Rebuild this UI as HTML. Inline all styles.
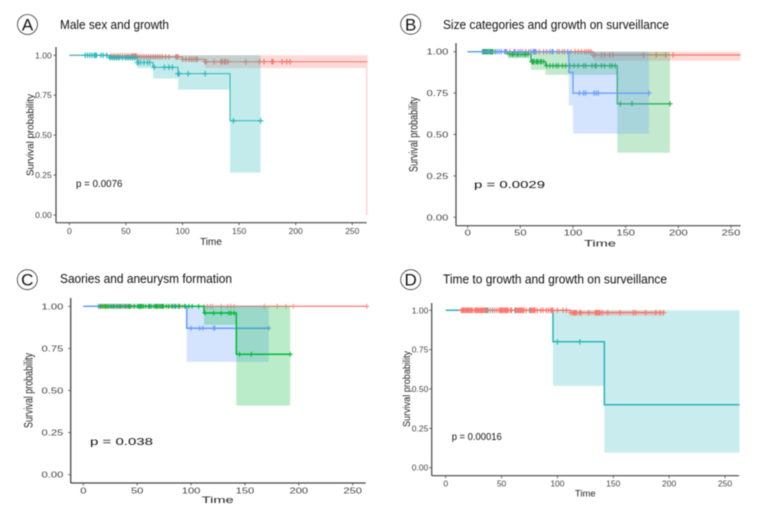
<!DOCTYPE html>
<html lang="en">
<head>
<meta charset="utf-8">
<title>Survival curves</title>
<style>
html,body{margin:0;padding:0;background:#fff;width:759px;height:516px;overflow:hidden}
#chart{display:block;filter:blur(0.5px);font-family:"Liberation Sans",sans-serif}
.title{font-size:12.5px;fill:#111}
.letter{font-size:17px;fill:#111;text-anchor:middle}
.badge{fill:#fff;stroke:#333;stroke-width:.8}
.pval{font-size:10.5px;fill:#111}
.ylab,.xlab{fill:#222}
</style>
</head>
<body>
<svg id="chart" width="759" height="516" viewBox="0 0 759 516" xmlns="http://www.w3.org/2000/svg">
  <rect width="759" height="516" fill="#fff"/>

  <g>
    <circle class="badge" cx="27.5" cy="24.5" r="10"/>
    <text class="letter" x="27.5" y="30.5">A</text>
    <text class="title" x="60" y="29" textLength="109" lengthAdjust="spacingAndGlyphs">Male sex and growth</text>
  </g>
  <g>
    <circle class="badge" cx="410.7" cy="24.3" r="10"/>
    <text class="letter" x="410.7" y="30.3">B</text>
    <text class="title" x="443" y="29" textLength="226" lengthAdjust="spacingAndGlyphs">Size categories and growth on surveillance</text>
  </g>
  <g>
    <circle class="badge" cx="27.3" cy="279.7" r="10"/>
    <text class="letter" x="27.3" y="285.7">C</text>
    <text class="title" x="60" y="283" textLength="172" lengthAdjust="spacingAndGlyphs">Saories and aneurysm formation</text>
  </g>
  <g>
    <circle class="badge" cx="410.7" cy="279.7" r="10"/>
    <text class="letter" x="410.7" y="285.7">D</text>
    <text class="title" x="443" y="283.5" textLength="224" lengthAdjust="spacingAndGlyphs">Time to growth and growth on surveillance</text>
  </g>

  <g id="plots"></g>

  <text class="ylab" font-size="10.5" text-anchor="middle" transform="translate(33.5,135) rotate(-90)" textLength="82" lengthAdjust="spacingAndGlyphs">Survival probability</text>
  <text class="xlab" font-size="10" text-anchor="middle" x="211" y="245">Time</text>
  <text class="pval" x="76" y="187" textLength="46.5" lengthAdjust="spacingAndGlyphs">p = 0.0076</text>

  <text class="ylab" font-size="11.5" text-anchor="middle" transform="translate(417.5,134.5) rotate(-90)" textLength="75" lengthAdjust="spacingAndGlyphs">Survival probability</text>
  <text class="xlab" font-size="9.5" text-anchor="middle" x="600" y="246.5" textLength="32" lengthAdjust="spacingAndGlyphs">Time</text>
  <text class="pval" x="474" y="188" textLength="71" lengthAdjust="spacingAndGlyphs">p = 0.0029</text>

  <text class="ylab" font-size="11.5" text-anchor="middle" transform="translate(32.5,390.5) rotate(-90)" textLength="75" lengthAdjust="spacingAndGlyphs">Survival probability</text>
  <text class="xlab" font-size="9.5" text-anchor="middle" x="217.7" y="503" textLength="32" lengthAdjust="spacingAndGlyphs">Time</text>
  <text class="pval" x="90" y="445" textLength="63" lengthAdjust="spacingAndGlyphs">p = 0.038</text>

  <text class="ylab" font-size="10.5" text-anchor="middle" transform="translate(410,389) rotate(-90)" textLength="76" lengthAdjust="spacingAndGlyphs">Survival probability</text>
  <text class="xlab" font-size="9.5" text-anchor="middle" x="585.3" y="496.5">Time</text>
  <text class="pval" x="451.7" y="440" textLength="50" lengthAdjust="spacingAndGlyphs">p = 0.00016</text>
</svg>

<script>
const xTickValues = [0, 50, 100, 150, 200, 250];
const xTickLabels = ['0', '50', '100', '150', '200', '250'];
const yTickValues = [0, 0.25, 0.5, 0.75, 1];
const yTickLabels = ['0.00', '0.25', '0.50', '0.75', '1.00'];

/* Panel A */
const aRedTimes = [0, 37, 60, 100, 120, 262];
const aRedSurv = [1, 0.995, 0.99, 0.975, 0.96, 0.96];
const aRedUpper = [1, 1, 1, 1, 1, 1];
const aRedLower = [1, 0.99, 0.98, 0.96, 0.92, 0];
const aRedEnd = 263.5;
const aRedCensor = [37,39,41,43,45,47,49,51,53,55,56,57,58,59,60,62,64,66,68,70,72,74,76,78,80,82,85,88,94,95,96,100,103,106,108,110,112,113,120,121,128,134,135,137,138,140,156,168,172,179,180,188,192,195];
const aTealTimes = [0, 35, 60, 74, 96, 142];
const aTealSurv = [1, 0.985, 0.955, 0.925, 0.885, 0.59];
const aTealUpper = [1, 1, 1, 1, 1, 1];
const aTealLower = [1, 0.97, 0.92, 0.855, 0.785, 0.265];
const aTealEnd = 169;
const aTealCensor = [14,16,18,20,22,23,24,28,30,33,36,38,40,42,44,47,50,52,54,56,58,60,61,63,66,69,71,75,84,88,91,96,97,105,120,145,169];

/* Panel B */
const bRedTimes = [0, 119];
const bRedSurv = [1, 0.98];
const bRedUpper = [1, 1];
const bRedLower = [1, 0.945];
const bRedEnd = 259;
const bRedCensor = [22,26,36,40,44,48,52,55,58,62,65,68,72,75,78,85,87,90,92,95,98,102,105,108,111,113,115,117,119,121,127,130,135,138,167,179,188,195];
const bBlueTimes = [0, 96, 100];
const bBlueSurv = [1, 0.875, 0.75];
const bBlueUpper = [1, 1, 1];
const bBlueLower = [1, 0.675, 0.505];
const bBlueEnd = 172;
const bBlueCensor = [14,20,28,30,32,35,37,45,50,60,63,64,80,81,95,106,110,112,120,122,124,172];
const bGreenTimes = [0, 38, 60, 74, 142];
const bGreenSurv = [1, 0.985, 0.94, 0.915, 0.685];
const bGreenUpper = [1, 1, 1, 1, 1];
const bGreenLower = [1, 0.96, 0.89, 0.86, 0.39];
const bGreenEnd = 192;
const bGreenCensor = [14,15,16,17,18,19,20,21,22,23,24,26,40,42,43,45,47,48,50,52,54,55,57,61,62,63,65,66,67,69,70,72,75,78,81,84,86,90,93,97,101,105,110,112,118,121,122,127,130,135,137,140,145,156,192];

/* Panel C */
const cRedTimes = [0];
const cRedSurv = [1];
const cRedUpper = [1];
const cRedLower = [1];
const cRedEnd = 263;
const cRedCensor = [15,17,19,22,24,27,30,33,36,38,41,45,48,55,60,66,70,75,80,84,90,92,112,115,118,120,128,134,137,140,168,180,188,195,263];
const cBlueTimes = [0, 96];
const cBlueSurv = [1, 0.87];
const cBlueUpper = [1, 1];
const cBlueLower = [1, 0.67];
const cBlueEnd = 172;
const cBlueCensor = [14,25,29,31,35,37,40,44,50,62,65,72,83,85,88,95,100,108,111,121,122,172];
const cGreenTimes = [14, 112, 142];
const cGreenSurv = [1, 0.96, 0.715];
const cGreenUpper = [1, 1, 1];
const cGreenLower = [1, 0.89, 0.41];
const cGreenEnd = 192;
const cGreenCensor = [16,18,20,21,23,26,28,32,34,39,42,43,47,51,52,53,54,56,58,61,63,67,68,69,71,73,74,77,79,82,86,89,94,98,101,107,113,121,128,135,137,140,145,156,192];

/* Panel D */
const dRedTimes = [14, 112];
const dRedSurv = [1, 0.985];
const dRedUpper = [1, 1];
const dRedLower = [1, 0.965];
const dRedEnd = 195;
const dRedCensor = [14,15,16,17,18,19,20,21,22,23,24,26,27,28,29,30,31,32,33,34,35,37,40,44,46,48,49,50,51,52,53,54,55,56,58,59,63,64,65,66,67,68,69,70,72,76,77,78,79,80,82,85,87,90,92,94,95,96,100,105,108,112,114,115,116,117,120,121,128,134,135,136,137,138,140,145,156,168,170,179,188,192,195];
const dTealTimes = [0, 96, 142];
const dTealSurv = [1, 0.8, 0.4];
const dTealUpper = [1, 1, 1];
const dTealLower = [1, 0.52, 0.095];
const dTealEnd = 263;
const dTealCensor = [36,38,42,62,75,100,120];

const RED = '#F8766D', TEAL = '#26B6BA', BLUE = '#619CFF', GREEN = '#22AE4A';
const SVG_NS = 'http://www.w3.org/2000/svg';
const plots = document.getElementById('plots');

function make(tag, attrs, parent) {
  const el = document.createElementNS(SVG_NS, tag);
  for (const k in attrs) el.setAttribute(k, attrs[k]);
  parent.appendChild(el);
  return el;
}

function stepPoints(times, values, end, xf, yf) {
  const pts = [];
  times.forEach(function (t, i) {
    if (i > 0) pts.push([xf(t), yf(values[i - 1])]);
    pts.push([xf(t), yf(values[i])]);
  });
  pts.push([xf(end), yf(values[values.length - 1])]);
  return pts;
}

function survivalAt(times, surv, t) {
  let v = surv[0];
  times.forEach(function (tt, i) { if (tt <= t) v = surv[i]; });
  return v;
}

function drawSeries(parent, p, s, xf, yf) {
  const g = make('g', {}, parent);
  
  

  const up = stepPoints(s.times, s.upper, s.end, xf, yf);
  const low = stepPoints(s.times, s.lower, s.end, xf, yf).reverse();
  const band = make('polygon', {
    points: up.concat(low).map(function (q) { return q[0].toFixed(2) + ',' + q[1].toFixed(2); }).join(' '),
    fill: s.color,
    'fill-opacity': p.bandOpacity
  }, g);
  
  

  const line = make('polyline', {
    points: stepPoints(s.times, s.surv, s.end, xf, yf).map(function (q) { return q[0].toFixed(2) + ',' + q[1].toFixed(2); }).join(' '),
    fill: 'none',
    stroke: s.color,
    'stroke-width': s.width || p.lineWidth
  }, g);
  
  

  s.censor.forEach(function (t) {
    const cx = xf(t), cy = yf(survivalAt(s.times, s.surv, t));
    const a = p.markSize;
    const mark = make('path', {
      d: 'M' + (cx - a).toFixed(2) + ' ' + cy.toFixed(2) + 'H' + (cx + a).toFixed(2) +
         'M' + cx.toFixed(2) + ' ' + (cy - a).toFixed(2) + 'V' + (cy + a).toFixed(2),
      stroke: s.color,
      'stroke-width': p.markWidth,
      fill: 'none'
    }, g);
    
    
  });
}

function drawPanel(p, seriesList) {
  const xScale = (p.x250 - p.x0) / 250;
  const xf = function (t) { return p.x0 + t * xScale; };
  const yf = function (v) { return p.y0 + (p.y1 - p.y0) * v; };

  const g = make('g', {}, plots);
  
  

  seriesList.forEach(function (s) { drawSeries(g, p, s, xf, yf); });

  const yAxis = make('line', { x1: p.left, x2: p.left, y1: p.top, y2: p.bottom, stroke: '#444', 'stroke-width': p.axisWidth }, g);
  
  
  const xAxis = make('line', { x1: p.left, x2: p.right, y1: p.bottom, y2: p.bottom, stroke: '#444', 'stroke-width': p.axisWidth }, g);
  
  

  xTickValues.forEach(function (v, i) {
    const tick = make('line', { x1: xf(v), x2: xf(v), y1: p.bottom, y2: p.bottom + 2.5, stroke: '#444', 'stroke-width': 0.8 }, g);
    
    
    const label = make('text', {
      transform: 'translate(' + xf(v) + ',' + p.xLabelY + ') scale(' + p.stretch + ',1)',
      'text-anchor': 'middle', 'font-size': p.tickFont, fill: '#444'
    }, g);
    label.textContent = xTickLabels[i];
    
    
  });

  yTickValues.forEach(function (v, i) {
    const tick = make('line', { x1: p.left - 2.5, x2: p.left, y1: yf(v), y2: yf(v), stroke: '#444', 'stroke-width': 0.8 }, g);
    
    
    const label = make('text', {
      transform: 'translate(' + p.yLabelX + ',' + (yf(v) + 3) + ') scale(' + p.stretch + ',1)',
      'text-anchor': 'end', 'font-size': p.tickFont, fill: '#444'
    }, g);
    label.textContent = yTickLabels[i];
    
    
  });
}

drawPanel(
  { id: 'panel-a', x0: 69.3, x250: 352.3, y0: 215, y1: 55.3, left: 56, right: 366.7, top: 47, bottom: 222.7,
    xLabelY: 234, yLabelX: 51.7, tickFont: 8.5, stretch: 1, lineWidth: 1, axisWidth: 1.2, markSize: 2.8, markWidth: 1.1, bandOpacity: 0.27 },
  [
    { name: 'red', color: RED, times: aRedTimes, surv: aRedSurv, upper: aRedUpper, lower: aRedLower, end: aRedEnd, censor: aRedCensor },
    { name: 'teal', color: TEAL, times: aTealTimes, surv: aTealSurv, upper: aTealUpper, lower: aTealLower, end: aTealEnd, censor: aTealCensor }
  ]
);

drawPanel(
  { id: 'panel-b', x0: 467.7, x250: 731, y0: 217.3, y1: 51.7, left: 456, right: 740.7, top: 43, bottom: 225.7,
    xLabelY: 235.5, yLabelX: 448.3, tickFont: 8, stretch: 1.4, lineWidth: 1.2, axisWidth: 1.2, markSize: 2.7, markWidth: 1.1, bandOpacity: 0.27 },
  [
    { name: 'red', color: RED, times: bRedTimes, surv: bRedSurv, upper: bRedUpper, lower: bRedLower, end: bRedEnd, censor: bRedCensor },
    { name: 'green', color: GREEN, times: bGreenTimes, surv: bGreenSurv, upper: bGreenUpper, lower: bGreenLower, end: bGreenEnd, censor: bGreenCensor },
    { name: 'blue', color: BLUE, times: bBlueTimes, surv: bBlueSurv, upper: bBlueUpper, lower: bBlueLower, end: bBlueEnd, censor: bBlueCensor }
  ]
);

drawPanel(
  { id: 'panel-c', x0: 83.3, x250: 352.7, y0: 474.7, y1: 306.3, left: 70.7, right: 365.7, top: 298, bottom: 483,
    xLabelY: 493.5, yLabelX: 63.3, tickFont: 8, stretch: 1.4, lineWidth: 1.5, axisWidth: 1.3, markSize: 2.4, markWidth: 1.1, bandOpacity: 0.27 },
  [
    { name: 'red', color: '#FF8F88', times: cRedTimes, surv: cRedSurv, upper: cRedUpper, lower: cRedLower, end: cRedEnd, censor: cRedCensor },
    { name: 'blue', color: BLUE, times: cBlueTimes, surv: cBlueSurv, upper: cBlueUpper, lower: cBlueLower, end: cBlueEnd, censor: cBlueCensor },
    { name: 'green', color: '#00BA38', times: cGreenTimes, surv: cGreenSurv, upper: cGreenUpper, lower: cGreenLower, end: cGreenEnd, censor: cGreenCensor }
  ]
);

drawPanel(
  { id: 'panel-d', x0: 445.7, x250: 725, y0: 467.7, y1: 310.3, left: 431.7, right: 739, top: 303, bottom: 475.7,
    xLabelY: 486.5, yLabelX: 428.3, tickFont: 8.5, stretch: 1, lineWidth: 1.5, axisWidth: 1.2, markSize: 2.8, markWidth: 1.1, bandOpacity: 0.25 },
  [
    { name: 'teal', color: TEAL, times: dTealTimes, surv: dTealSurv, upper: dTealUpper, lower: dTealLower, end: dTealEnd, censor: dTealCensor },
    { name: 'red', color: RED, times: dRedTimes, surv: dRedSurv, upper: dRedUpper, lower: dRedLower, end: dRedEnd, censor: dRedCensor }
  ]
);
</script>
</body>
</html>
